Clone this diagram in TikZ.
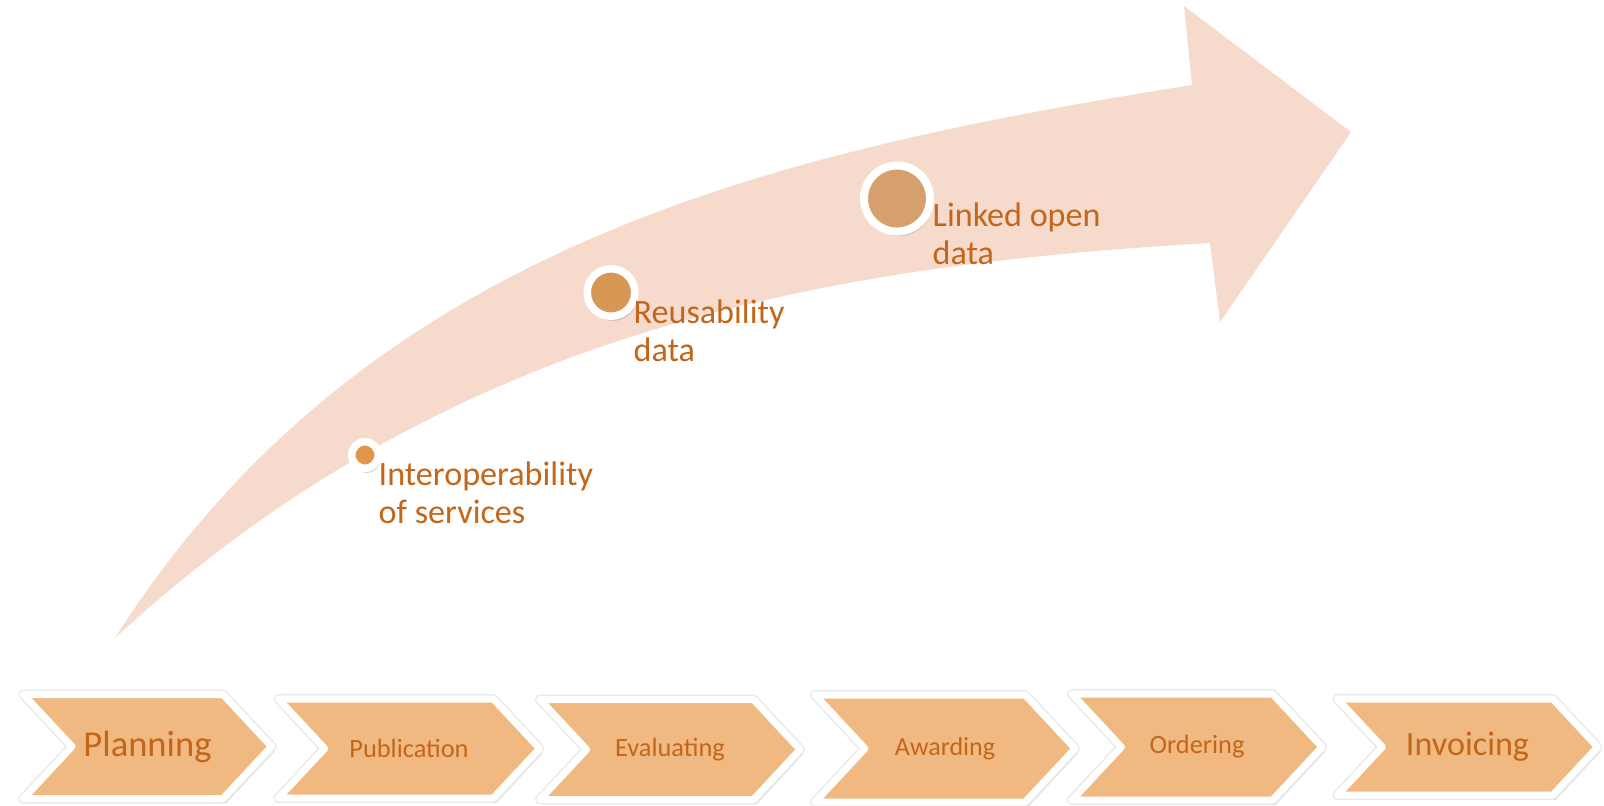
\documentclass[tikz,border=0pt]{standalone}
\usepackage{fontspec}
\setmainfont{Carlito}
\usetikzlibrary{shapes.symbols,shadows}

\definecolor{bandpink}{HTML}{F6DBCC}
\definecolor{stagefill}{HTML}{F0B982}
\definecolor{labeltext}{HTML}{C4661A}
\definecolor{dotone}{HTML}{E3954A}
\definecolor{dottwo}{HTML}{D99756}
\definecolor{dotthree}{HTML}{D5A06E}

\begin{document}
\begin{tikzpicture}[x=0.01cm, y=-0.01cm,
    stage/.style = {signal, signal to=east, signal from=west, signal pointer angle=94,
        fill=stagefill, draw=white, line width=2pt, line join=round, text=labeltext, inner sep=0pt,
        drop shadow={opacity=.3, shadow xshift=.8pt, shadow yshift=-1.4pt},
        preaction={draw=black!9, line width=2.8pt}},
    dot/.style = {circle, draw=white, inner sep=0pt,
        drop shadow={opacity=.35, shadow xshift=.6pt, shadow yshift=-1.3pt}},
    note/.style = {anchor=base west, align=left, inner sep=0pt, text=labeltext,
        font=\fontsize{9.7}{10.7}\selectfont}]

    \useasboundingbox (0,0) rectangle (1604,805);

    % growth arrow
    \fill[bandpink] (115,638) .. controls (365,245) and (772,152) .. (1192,85)
        -- (1184,6) -- (1351,132) -- (1220,322) -- (1210,243)
        .. controls (810,266) and (445,334) .. (115,638) -- cycle;

    % stages
    \node[stage, minimum width=2.48cm, minimum height=1.04cm, font=\fontsize{10.4}{12}\selectfont] (1) at (147.5,746.5) {Planning};
    \node[stage, minimum width=2.61cm, minimum height=0.99cm, font=\fontsize{7.5}{9}\selectfont] (2) at (409,748.5) {Publication};
    \node[stage, minimum width=2.60cm, minimum height=1.00cm, font=\fontsize{7.5}{9}\selectfont] (3) at (670,749.5) {Evaluating};
    \node[stage, minimum width=2.60cm, minimum height=1.07cm, font=\fontsize{7.4}{9}\selectfont] (4) at (945,748.5) {Awarding};
    \node[stage, minimum width=2.50cm, minimum height=1.06cm, font=\fontsize{7.5}{9}\selectfont] (5) at (1197,747) {Ordering};
    \node[stage, minimum width=2.60cm, minimum height=0.96cm, font=\fontsize{9.7}{12}\selectfont] (6) at (1467.5,747) {Invoicing};

    % milestones on the arrow
    \node[dot, fill=dotone, minimum size=0.265cm, line width=0.075cm] (a) at (365,455) {};
    \node[dot, fill=dottwo, minimum size=0.475cm, line width=0.075cm] (b) at (611,292.5) {};
    \node[dot, fill=dotthree, minimum size=0.66cm, line width=0.08cm] (c) at (897,198.5) {};

    \node[note] (ta) at (378,523) {Interoperability\\of services};
    \node[note] (tb) at (633,361) {Reusability\\data};
    \node[note] (tc) at (932,264) {Linked open\\data};
\end{tikzpicture}
\end{document}
